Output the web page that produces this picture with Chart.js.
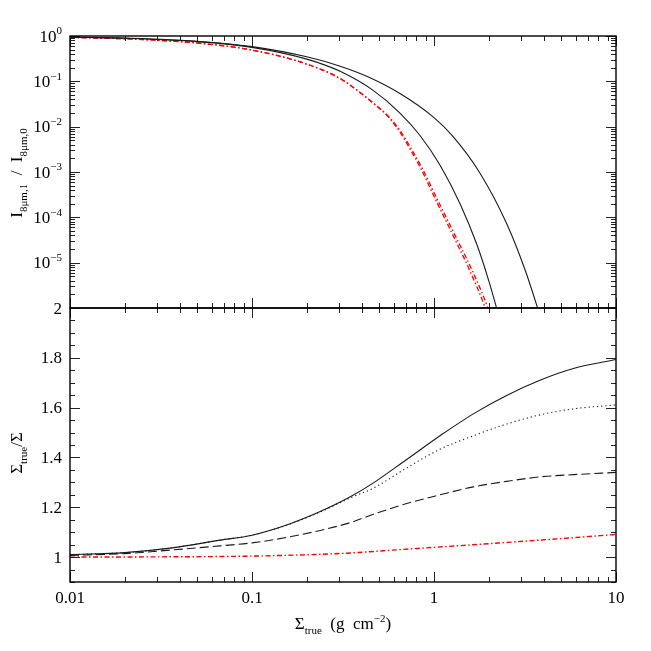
<!DOCTYPE html>
<html><head><meta charset="utf-8">
<script src="https://cdn.jsdelivr.net/npm/chart.js@4/dist/chart.umd.min.js"></script>
<style>
html,body{margin:0;padding:0;background:#fff;}
#wrap{position:relative;width:651px;height:651px;overflow:hidden;}
canvas{position:absolute;left:0;}
</style></head><body>
<div id="wrap">
<canvas id="topc" width="651" height="318" style="top:0px"></canvas>
<canvas id="botc" width="651" height="361" style="top:290px"></canvas>
</div>
<script>
// ---------- data ----------
// top panel: I_8um,1 / I_8um,0 vs Sigma_true (g cm^-2)
const sigOuter = [0.01, 0.02, 0.05, 0.1, 0.2, 0.305, 0.427, 0.65, 1.0, 1.26, 1.78, 2.51, 3.16, 3.68, 4.0];
const iOuter   = [0.948, 0.899, 0.767, 0.582, 0.347, 0.215, 0.129, 0.0537, 0.0158, 0.00631, 9.77e-4, 7.24e-5, 7.08e-6, 1.10e-6, 3.55e-7];
const sigInner = [0.01, 0.02, 0.05, 0.1, 0.2, 0.305, 0.463, 0.65, 0.84, 1.08, 1.39, 1.72, 2.0, 2.2, 2.35];
const iInner   = [0.944, 0.891, 0.752, 0.562, 0.309, 0.166, 0.0631, 0.0200, 0.00631, 0.00141, 2.00e-4, 2.51e-5, 3.98e-6, 1.05e-6, 3.98e-7];
const sigRedA  = [0.01, 0.02, 0.05, 0.1, 0.2, 0.305, 0.463, 0.56, 0.65, 0.74, 0.84, 1.04, 1.28, 1.55, 1.90, 2.05];
const sigRedB  = [0.01, 0.02, 0.05, 0.1, 0.2, 0.305, 0.465, 0.565, 0.66, 0.753, 0.857, 1.065, 1.315, 1.598, 1.965, 2.12];
const iRed     = [0.931, 0.867, 0.700, 0.490, 0.240, 0.115, 0.0331, 0.0166, 0.00759, 0.00316, 0.00126, 2.09e-4, 3.80e-5, 7.59e-6, 1.07e-6, 3.98e-7];

// bottom panel: Sigma_true / Sigma vs Sigma_true
const sigBot     = [0.01, 0.02, 0.0355, 0.0667, 0.1, 0.155, 0.237, 0.345, 0.465, 0.708, 1.079, 1.644, 2.506, 3.819, 5.834, 10];
const ratioSolid = [1.010, 1.018, 1.036, 1.068, 1.088, 1.129, 1.183, 1.241, 1.298, 1.392, 1.487, 1.575, 1.649, 1.710, 1.757, 1.793];
const ratioDot   = [1.010, 1.018, 1.036, 1.068, 1.088, 1.128, 1.181, 1.237, 1.277, 1.358, 1.433, 1.487, 1.534, 1.571, 1.595, 1.611];
const ratioDash  = [1.007, 1.014, 1.028, 1.045, 1.057, 1.079, 1.107, 1.138, 1.172, 1.215, 1.250, 1.282, 1.304, 1.322, 1.331, 1.340];
const sigRedBot  = [0.01, 0.0316, 0.1, 0.316, 0.65, 1.0, 2.307, 3.162, 5.623, 10];
const ratioRed   = [1.000, 1.001, 1.004, 1.015, 1.030, 1.039, 1.057, 1.064, 1.077, 1.091];

// ticks / labels
const xMajor = [0.01, 0.1, 1, 10];
const xMajorLabels = ['0.01', '0.1', '1', '10'];
const topDecades = [-6, -5, -4, -3, -2, -1, 0];
const topLabelExps = ['0', '\u22121', '\u22122', '\u22123', '\u22124', '\u22125'];
const botMajor = [1, 1.2, 1.4, 1.6, 1.8, 2];
const botMajorLabels = ['1', '1.2', '1.4', '1.6', '1.8', '2'];

// ---------- helpers ----------
const FAM = '"Liberation Serif", "DejaVu Serif", serif';
function fnt(sz){ return sz + 'px ' + FAM; }
function pts(xs, ys){ return xs.map((x, i) => ({x: x, y: ys[i]})); }
function richWidth(ctx, parts, base){
  let w = 0;
  for (const p of parts){ ctx.font = fnt(p.s ? Math.round(base*0.66) : base); w += ctx.measureText(p.t).width; }
  return w;
}
function drawRich(ctx, parts, x, y, base, align){
  const w = richWidth(ctx, parts, base);
  let cx = align === 'center' ? x - w/2 : (align === 'right' ? x - w : x);
  ctx.textAlign = 'left'; ctx.textBaseline = 'alphabetic';
  for (const p of parts){
    const sz = p.s ? Math.round(base*0.66) : base;
    ctx.font = fnt(sz);
    const dy = p.s === -1 ? base*0.28 : (p.s === 1 ? -base*0.42 : 0);
    ctx.fillText(p.t, cx, y + dy);
    cx += ctx.measureText(p.t).width;
  }
}
function logMinors(d0, d1){
  const out = [];
  for (let d = d0; d < d1; d++) for (let k = 2; k <= 9; k++) out.push(k * Math.pow(10, d));
  return out;
}

const framePlugin = {
  id: 'frame',
  afterDraw(chart, args, opts){
    const ctx = chart.ctx, a = chart.chartArea;
    const xs = chart.scales.x, ys = chart.scales.y;
    const MAJ = 10, MIN = 5;
    ctx.save();
    ctx.strokeStyle = '#222'; ctx.lineWidth = 1;
    ctx.beginPath();
    const xmin = logMinors(-2, 1);
    for (const v of xMajor){ const p = Math.round(xs.getPixelForValue(v)) + 0.5;
      ctx.moveTo(p, a.bottom); ctx.lineTo(p, a.bottom - MAJ); ctx.moveTo(p, a.top); ctx.lineTo(p, a.top + MAJ); }
    for (const v of xmin){ const p = Math.round(xs.getPixelForValue(v)) + 0.5;
      ctx.moveTo(p, a.bottom); ctx.lineTo(p, a.bottom - MIN); ctx.moveTo(p, a.top); ctx.lineTo(p, a.top + MIN); }
    let yMaj, yMin;
    if (opts.panel === 'top'){
      yMaj = topDecades.map(d => Math.pow(10, d));
      yMin = logMinors(-6, 0);
    } else {
      yMaj = botMajor;
      yMin = [];
      for (let i = 0; i <= 22; i++){ const v = 0.9 + i*0.05; if (!botMajor.some(m => Math.abs(m - v) < 1e-6)) yMin.push(v); }
    }
    for (const v of yMaj){ const p = Math.round(ys.getPixelForValue(v)) + 0.5;
      ctx.moveTo(a.left, p); ctx.lineTo(a.left + MAJ, p); ctx.moveTo(a.right, p); ctx.lineTo(a.right - MAJ, p); }
    for (const v of yMin){ const p = Math.round(ys.getPixelForValue(v)) + 0.5;
      ctx.moveTo(a.left, p); ctx.lineTo(a.left + MIN, p); ctx.moveTo(a.right, p); ctx.lineTo(a.right - MIN, p); }
    ctx.stroke();
    ctx.strokeStyle = '#000'; ctx.lineWidth = 1.4;
    ctx.strokeRect(a.left, a.top, a.right - a.left, a.bottom - a.top);
    ctx.fillStyle = '#000';
    const B = 17;
    if (opts.panel === 'top'){
      topLabelExps.forEach((e, i) => {
        const p = ys.getPixelForValue(Math.pow(10, -i));
        drawRich(ctx, [{t:'10', s:0}, {t:e, s:1}], 62, p + 5.5, B, 'right');
      });
      ctx.save();
      ctx.translate(22, (a.top + a.bottom)/2 + 1);
      ctx.rotate(-Math.PI/2);
      drawRich(ctx, [{t:'I', s:0}, {t:'8\u03bcm,1', s:-1}, {t:'  /  I', s:0}, {t:'8\u03bcm,0', s:-1}], 0, 0, B, 'center');
      ctx.restore();
    } else {
      botMajor.forEach((v, i) => {
        const p = ys.getPixelForValue(v);
        drawRich(ctx, [{t:botMajorLabels[i], s:0}], 62, p + 5.5, B, 'right');
      });
      xMajor.forEach((v, i) => {
        const p = xs.getPixelForValue(v);
        drawRich(ctx, [{t:xMajorLabels[i], s:0}], p, a.bottom + 21, B, 'center');
      });
      drawRich(ctx, [{t:'\u03a3', s:0}, {t:'true', s:-1}, {t:'  (g  cm', s:0}, {t:'\u22122', s:1}, {t:')', s:0}],
               (a.left + a.right)/2, a.bottom + 47, B, 'center');
      ctx.save();
      ctx.translate(22, (a.top + a.bottom)/2 + 8);
      ctx.rotate(-Math.PI/2);
      drawRich(ctx, [{t:'\u03a3', s:0}, {t:'true', s:-1}, {t:'/\u03a3', s:0}], 0, 0, B, 'center');
      ctx.restore();
    }
    ctx.restore();
  }
};

const BLACK = '#1a1a1a', RED = '#ff0000';
const DASHDOT = [5, 2.5, 1.5, 2.5];
function ds(xs, ys, color, dash, w){
  return {data: pts(xs, ys), borderColor: color, borderWidth: w || 1.1, borderDash: dash || [],
          pointRadius: 0, fill: false, cubicInterpolationMode: 'monotone'};
}
const common = (padTop, padBottom, ymin, ymax, ytype, panel) => ({
  responsive: false, animation: false, events: [],
  layout: {padding: {left: 70, right: 35, top: padTop, bottom: padBottom}},
  plugins: {legend: {display: false}, tooltip: {enabled: false}, frame: {panel: panel}},
  scales: {
    x: {type: 'logarithmic', min: 0.01, max: 10, display: false},
    y: {type: ytype, min: ymin, max: ymax, display: false}
  }
});

new Chart(document.getElementById('topc'), {
  type: 'line',
  data: {datasets: [
    ds(sigOuter, iOuter, BLACK),
    ds(sigInner, iInner, BLACK),
    ds(sigRedA, iRed, RED, DASHDOT, 1.3),
    ds(sigRedB, iRed, RED, DASHDOT, 1.3)
  ]},
  options: common(36, 10, 1e-6, 1, 'logarithmic', 'top'),
  plugins: [framePlugin]
});

new Chart(document.getElementById('botc'), {
  type: 'line',
  data: {datasets: [
    ds(sigBot, ratioSolid, BLACK),
    ds(sigBot, ratioDot, BLACK, [1.2, 3]),
    ds(sigBot, ratioDash, BLACK, [9, 4]),
    ds(sigRedBot, ratioRed, RED, DASHDOT, 1.4)
  ]},
  options: common(18, 69, 0.9, 2, 'linear', 'bottom'),
  plugins: [framePlugin]
});
</script>
</body></html>
